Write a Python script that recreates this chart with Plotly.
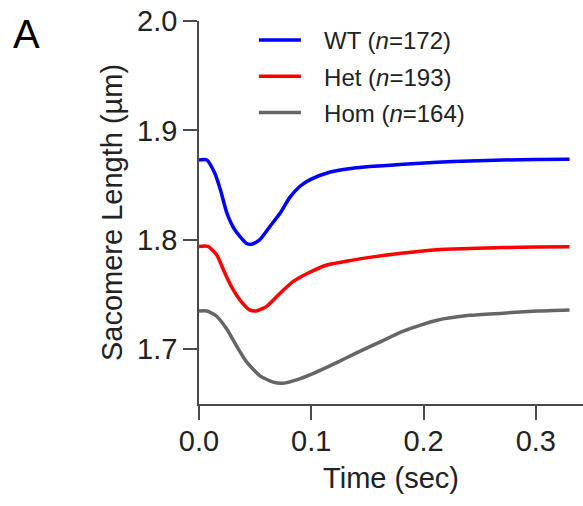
import plotly.graph_objects as go

# ---- data ----
wt_t = [0.0, 0.007, 0.014, 0.019, 0.025, 0.032, 0.042, 0.047, 0.054, 0.063, 0.072,
        0.081, 0.090, 0.099, 0.117, 0.137, 0.152, 0.182, 0.212, 0.241, 0.271, 0.301, 0.330]
wt_y = [1.873, 1.873, 1.861, 1.846, 1.824, 1.809, 1.797, 1.796, 1.800, 1.812, 1.824,
        1.839, 1.849, 1.855, 1.862, 1.8655, 1.867, 1.869, 1.871, 1.872, 1.873, 1.8735, 1.8736]

het_t = [0.0, 0.008, 0.016, 0.022, 0.029, 0.038, 0.045, 0.051, 0.060, 0.072, 0.084,
         0.096, 0.114, 0.137, 0.152, 0.182, 0.212, 0.241, 0.271, 0.301, 0.330]
het_y = [1.794, 1.794, 1.786, 1.772, 1.757, 1.743, 1.736, 1.735, 1.739, 1.751, 1.762,
         1.769, 1.777, 1.7815, 1.784, 1.788, 1.791, 1.792, 1.793, 1.7935, 1.7937]

hom_t = [0.0, 0.007, 0.016, 0.025, 0.034, 0.042, 0.054, 0.066, 0.075, 0.087, 0.102,
         0.117, 0.131, 0.146, 0.161, 0.182, 0.212, 0.241, 0.271, 0.301, 0.330]
hom_y = [1.735, 1.735, 1.730, 1.718, 1.702, 1.689, 1.676, 1.670, 1.669, 1.672, 1.678,
         1.685, 1.692, 1.6995, 1.7065, 1.7165, 1.7265, 1.731, 1.733, 1.735, 1.736]

series_names = ["WT (<i>n</i>=172)", "Het (<i>n</i>=193)", "Hom (<i>n</i>=164)"]
series_colors = ["#0000ff", "#ff0000", "#666666"]

x_ticks = [0.0, 0.1, 0.2, 0.3]
x_ticklabels = ["0.0", "0.1", "0.2", "0.3"]
y_ticks = [1.7, 1.8, 1.9, 2.0]
y_ticklabels = ["1.7", "1.8", "1.9", "2.0"]

FONT = "Liberation Sans, Arial, sans-serif"
GAP = "\u00a0\u00a0\u2009"

fig = go.Figure()
for i, (t, y) in enumerate([(wt_t, wt_y), (het_t, het_y), (hom_t, hom_y)]):
    fig.add_trace(go.Scatter(
        x=t, y=y, mode="lines", name=GAP + series_names[i],
        line=dict(color=series_colors[i], width=3.5, shape="spline", smoothing=0.6),
        legendgroup=f"g{i}",
    ))

axis_common = dict(
    showgrid=False, zeroline=False, showline=True, linecolor="#4a4a4a", linewidth=1.5,
    ticks="outside", ticklen=14, tickwidth=1.5, tickcolor="#4a4a4a",
    tickfont=dict(family=FONT, size=29, color="#222222"),
)

fig.update_layout(
    width=583, height=506,
    margin=dict(l=199, r=0, t=21, b=102),
    plot_bgcolor="white", paper_bgcolor="white",
    font=dict(family=FONT, color="#222222"),
    xaxis=dict(range=[0, 0.342], tickvals=x_ticks, ticktext=x_ticklabels,
               ticklabelstandoff=-4,
               title=dict(text="Time (sec)", font=dict(family=FONT, size=29, color="#222222"), standoff=12),
               **axis_common),
    yaxis=dict(range=[1.65, 2.0], tickvals=y_ticks, ticktext=y_ticklabels,
               title=dict(text="Sacomere Length (µm)", font=dict(family=FONT, size=29, color="#222222"), standoff=6),
               **axis_common),
    legend=dict(x=0.143, y=1.008, xanchor="left", yanchor="top",
                font=dict(family=FONT, size=24, color="#222222"),
                bgcolor="rgba(0,0,0,0)", tracegroupgap=2, itemwidth=42),
    annotations=[dict(text="A", xref="paper", yref="paper", x=-0.49, y=1.03,
                      xanchor="left", yanchor="top", showarrow=False,
                      font=dict(family=FONT, size=40, color="#000000"))],
)

fig.write_html("out.html")
